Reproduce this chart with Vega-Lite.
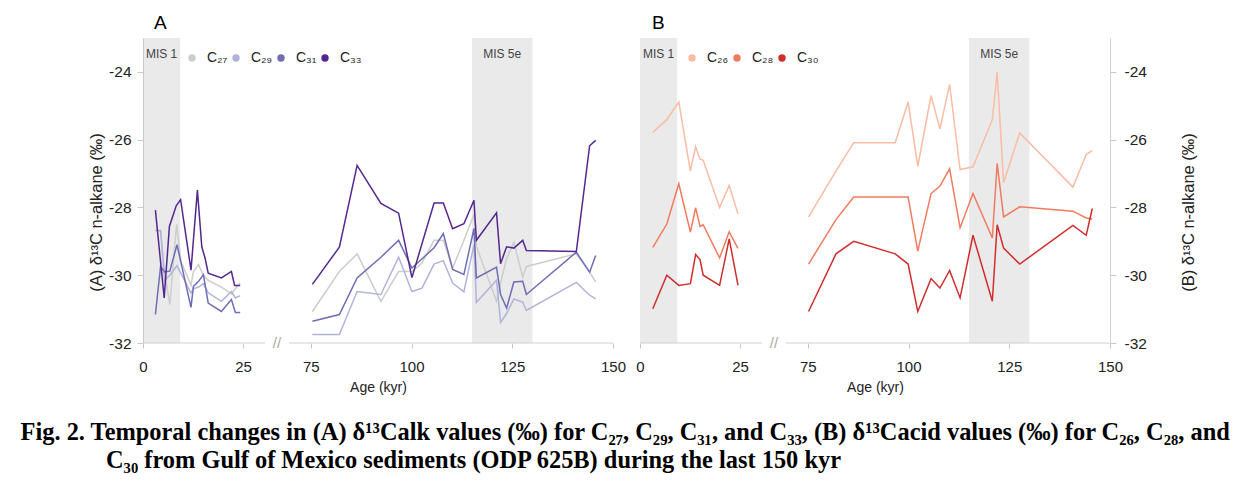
{
  "$schema": "https://vega.github.io/schema/vega-lite/v6.json",
  "padding": {"left": 20, "top": 14, "right": 5, "bottom": 5},
  "config": {
    "view": {"stroke": null},
    "font": "Liberation Sans",
    "axis": {"labelFont": "Liberation Sans", "labelColor": "#222", "titleFont": "Liberation Sans", "titleFontWeight": "normal", "titleColor": "#222", "domainColor": "#d0d0d0", "tickColor": "#c8c8c8", "gridColor": "#dcdcdc"},
    "axisX": {"grid": false},
    "legend": {"labelFont": "Liberation Sans"}
  },
  "title": {
    "text": ["Fig. 2. Temporal changes in (A) δ¹³Calk values (‰) for C₂₇, C₂₉, C₃₁, and C₃₃, (B) δ¹³Cacid values (‰) for C₂₆, C₂₈, and", "\u200b\u00a0\u00a0\u00a0\u00a0\u00a0\u00a0\u00a0\u00a0\u00a0\u00a0\u00a0\u00a0\u00a0\u00a0C₃₀ from Gulf of Mexico sediments (ODP 625B) during the last 150 kyr"],
    "orient": "bottom", "anchor": "start", "font": "Liberation Serif", "fontSize": 24.4, "fontWeight": "bold", "color": "#000", "lineHeight": 28, "offset": 27, "dx": -68
  },
  "datasets": {
    "alk": [
      {"s":"C27","age":3.1,"d":-28.68},{"s":"C27","age":4.4,"d":-28.7},{"s":"C27","age":5.4,"d":-29.9},{"s":"C27","age":6.7,"d":-30.87},{"s":"C27","age":8.4,"d":-28.5},{"s":"C27","age":9.5,"d":-29.6},{"s":"C27","age":12.0,"d":-30.3},{"s":"C27","age":12.6,"d":-29.9},{"s":"C27","age":13.9,"d":-29.69},{"s":"C27","age":15.1,"d":-30.0},{"s":"C27","age":16.3,"d":-30.15},{"s":"C27","age":19.6,"d":-30.35},{"s":"C27","age":22.1,"d":-30.55},{"s":"C27","age":23.1,"d":-30.4},{"s":"C27","age":24.3,"d":-30.22},
      {"s":"C27","age":75.4,"d":-31.07},{"s":"C27","age":82.1,"d":-29.89},{"s":"C27","age":86.5,"d":-29.37},{"s":"C27","age":92.4,"d":-30.77},{"s":"C27","age":96.8,"d":-29.89},{"s":"C27","age":100.1,"d":-29.89},{"s":"C27","age":102.6,"d":-29.64},{"s":"C27","age":105.6,"d":-28.97},{"s":"C27","age":107.9,"d":-28.97},{"s":"C27","age":110.2,"d":-29.79},{"s":"C27","age":113.0,"d":-28.97},{"s":"C27","age":115.5,"d":-28.21},{"s":"C27","age":116.1,"d":-29.15},{"s":"C27","age":121.1,"d":-30.77},{"s":"C27","age":122.1,"d":-30.23},{"s":"C27","age":123.6,"d":-29.5},{"s":"C27","age":125.4,"d":-29.03},{"s":"C27","age":127.6,"d":-30.05},{"s":"C27","age":128.5,"d":-29.74},{"s":"C27","age":140.9,"d":-29.37},{"s":"C27","age":144.2,"d":-29.91},{"s":"C27","age":145.7,"d":-30.2},
      {"s":"C29","age":3.1,"d":-28.68},{"s":"C29","age":4.4,"d":-28.68},{"s":"C29","age":5.4,"d":-30.15},{"s":"C29","age":6.7,"d":-30.0},{"s":"C29","age":8.5,"d":-29.72},{"s":"C29","age":12.0,"d":-30.52},{"s":"C29","age":12.6,"d":-30.4},{"s":"C29","age":13.9,"d":-30.35},{"s":"C29","age":15.1,"d":-30.25},{"s":"C29","age":16.3,"d":-30.52},{"s":"C29","age":19.6,"d":-30.77},{"s":"C29","age":22.1,"d":-30.48},{"s":"C29","age":23.1,"d":-30.67},{"s":"C29","age":24.3,"d":-30.6},
      {"s":"C29","age":75.4,"d":-31.75},{"s":"C29","age":82.1,"d":-31.75},{"s":"C29","age":86.5,"d":-30.48},{"s":"C29","age":92.4,"d":-30.57},{"s":"C29","age":96.8,"d":-29.47},{"s":"C29","age":100.1,"d":-30.48},{"s":"C29","age":102.6,"d":-30.38},{"s":"C29","age":105.6,"d":-29.67},{"s":"C29","age":107.9,"d":-29.57},{"s":"C29","age":110.2,"d":-30.23},{"s":"C29","age":113.0,"d":-30.49},{"s":"C29","age":115.5,"d":-29.1},{"s":"C29","age":116.1,"d":-30.8},{"s":"C29","age":121.1,"d":-30.15},{"s":"C29","age":122.1,"d":-31.39},{"s":"C29","age":123.6,"d":-31.13},{"s":"C29","age":125.4,"d":-30.7},{"s":"C29","age":127.6,"d":-30.79},{"s":"C29","age":128.5,"d":-31.04},{"s":"C29","age":140.9,"d":-30.21},{"s":"C29","age":144.2,"d":-30.59},{"s":"C29","age":145.7,"d":-30.7},
      {"s":"C31","age":3.1,"d":-31.16},{"s":"C31","age":4.4,"d":-29.74},{"s":"C31","age":5.4,"d":-29.9},{"s":"C31","age":6.7,"d":-29.88},{"s":"C31","age":8.5,"d":-29.1},{"s":"C31","age":12.0,"d":-30.95},{"s":"C31","age":12.6,"d":-30.33},{"s":"C31","age":13.9,"d":-30.18},{"s":"C31","age":15.1,"d":-29.98},{"s":"C31","age":16.3,"d":-30.82},{"s":"C31","age":19.6,"d":-31.07},{"s":"C31","age":22.1,"d":-30.72},{"s":"C31","age":23.1,"d":-31.1},{"s":"C31","age":24.3,"d":-31.1},
      {"s":"C31","age":75.4,"d":-31.36},{"s":"C31","age":82.1,"d":-31.16},{"s":"C31","age":86.5,"d":-30.08},{"s":"C31","age":92.4,"d":-29.47},{"s":"C31","age":96.8,"d":-28.97},{"s":"C31","age":100.1,"d":-29.79},{"s":"C31","age":105.6,"d":-29.19},{"s":"C31","age":107.9,"d":-28.77},{"s":"C31","age":110.2,"d":-29.83},{"s":"C31","age":113.0,"d":-29.98},{"s":"C31","age":115.5,"d":-28.62},{"s":"C31","age":116.1,"d":-30.08},{"s":"C31","age":121.1,"d":-29.76},{"s":"C31","age":122.1,"d":-30.57},{"s":"C31","age":123.6,"d":-30.97},{"s":"C31","age":125.4,"d":-30.2},{"s":"C31","age":127.6,"d":-30.18},{"s":"C31","age":128.5,"d":-30.57},{"s":"C31","age":140.9,"d":-29.32},{"s":"C31","age":144.2,"d":-29.91},{"s":"C31","age":145.7,"d":-29.42},
      {"s":"C33","age":3.1,"d":-28.08},{"s":"C33","age":5.3,"d":-30.67},{"s":"C33","age":6.6,"d":-28.56},{"s":"C33","age":8.3,"d":-27.95},{"s":"C33","age":9.4,"d":-27.77},{"s":"C33","age":12.0,"d":-29.85},{"s":"C33","age":13.6,"d":-27.49},{"s":"C33","age":14.7,"d":-29.16},{"s":"C33","age":15.5,"d":-29.49},{"s":"C33","age":16.3,"d":-29.94},{"s":"C33","age":19.6,"d":-30.08},{"s":"C33","age":22.1,"d":-29.89},{"s":"C33","age":22.9,"d":-30.3},{"s":"C33","age":24.3,"d":-30.3},
      {"s":"C33","age":75.4,"d":-30.27},{"s":"C33","age":82.1,"d":-29.17},{"s":"C33","age":86.5,"d":-26.76},{"s":"C33","age":92.4,"d":-27.88},{"s":"C33","age":96.8,"d":-28.17},{"s":"C33","age":100.1,"d":-30.07},{"s":"C33","age":105.6,"d":-27.87},{"s":"C33","age":107.9,"d":-27.87},{"s":"C33","age":110.2,"d":-28.63},{"s":"C33","age":113.0,"d":-28.48},{"s":"C33","age":115.5,"d":-27.79},{"s":"C33","age":116.1,"d":-28.97},{"s":"C33","age":121.1,"d":-28.16},{"s":"C33","age":122.1,"d":-29.66},{"s":"C33","age":123.6,"d":-29.16},{"s":"C33","age":125.4,"d":-29.2},{"s":"C33","age":127.6,"d":-28.97},{"s":"C33","age":128.5,"d":-29.27},{"s":"C33","age":140.9,"d":-29.3},{"s":"C33","age":144.2,"d":-26.18},{"s":"C33","age":145.7,"d":-26.02}
    ],
    "acid": [
      {"s":"C26","age":3.2,"d":-25.78},{"s":"C26","age":6.7,"d":-25.41},{"s":"C26","age":9.7,"d":-24.89},{"s":"C26","age":12.6,"d":-26.93},{"s":"C26","age":13.9,"d":-26.21},{"s":"C26","age":15.0,"d":-26.57},{"s":"C26","age":15.8,"d":-26.61},{"s":"C26","age":19.9,"d":-28.0},{"s":"C26","age":22.3,"d":-27.35},{"s":"C26","age":24.5,"d":-28.19},
      {"s":"C26","age":75.2,"d":-28.28},{"s":"C26","age":82.0,"d":-26.93},{"s":"C26","age":86.4,"d":-26.09},{"s":"C26","age":96.7,"d":-26.09},{"s":"C26","age":99.9,"d":-24.89},{"s":"C26","age":102.3,"d":-26.78},{"s":"C26","age":105.6,"d":-24.7},{"s":"C26","age":107.8,"d":-25.68},{"s":"C26","age":110.2,"d":-24.37},{"s":"C26","age":112.8,"d":-26.88},{"s":"C26","age":116.0,"d":-26.8},{"s":"C26","age":120.8,"d":-25.41},{"s":"C26","age":122.0,"d":-24.01},{"s":"C26","age":123.6,"d":-27.27},{"s":"C26","age":127.6,"d":-25.8},{"s":"C26","age":140.8,"d":-27.4},{"s":"C26","age":144.1,"d":-26.44},{"s":"C26","age":145.6,"d":-26.32},
      {"s":"C28","age":3.2,"d":-29.18},{"s":"C28","age":6.7,"d":-28.49},{"s":"C28","age":9.7,"d":-27.3},{"s":"C28","age":12.6,"d":-28.73},{"s":"C28","age":13.9,"d":-28.01},{"s":"C28","age":15.0,"d":-28.56},{"s":"C28","age":15.8,"d":-28.51},{"s":"C28","age":19.9,"d":-29.49},{"s":"C28","age":22.3,"d":-28.72},{"s":"C28","age":24.5,"d":-29.21},
      {"s":"C28","age":75.2,"d":-29.67},{"s":"C28","age":82.0,"d":-28.36},{"s":"C28","age":86.4,"d":-27.69},{"s":"C28","age":96.7,"d":-27.69},{"s":"C28","age":99.9,"d":-27.69},{"s":"C28","age":102.3,"d":-29.29},{"s":"C28","age":105.6,"d":-27.59},{"s":"C28","age":107.8,"d":-27.37},{"s":"C28","age":110.2,"d":-26.86},{"s":"C28","age":112.8,"d":-28.6},{"s":"C28","age":116.0,"d":-27.59},{"s":"C28","age":120.8,"d":-28.9},{"s":"C28","age":122.0,"d":-26.7},{"s":"C28","age":123.6,"d":-28.28},{"s":"C28","age":127.6,"d":-27.98},{"s":"C28","age":140.8,"d":-28.11},{"s":"C28","age":144.1,"d":-28.31},{"s":"C28","age":145.6,"d":-28.34},
      {"s":"C30","age":3.2,"d":-30.99},{"s":"C30","age":6.7,"d":-30.0},{"s":"C30","age":9.7,"d":-30.3},{"s":"C30","age":12.6,"d":-30.25},{"s":"C30","age":13.9,"d":-29.39},{"s":"C30","age":15.0,"d":-29.54},{"s":"C30","age":15.8,"d":-30.0},{"s":"C30","age":19.9,"d":-30.3},{"s":"C30","age":22.3,"d":-28.93},{"s":"C30","age":24.5,"d":-30.3},
      {"s":"C30","age":75.2,"d":-31.07},{"s":"C30","age":82.0,"d":-29.37},{"s":"C30","age":86.4,"d":-29.0},{"s":"C30","age":96.7,"d":-29.37},{"s":"C30","age":99.9,"d":-29.67},{"s":"C30","age":102.3,"d":-31.07},{"s":"C30","age":105.6,"d":-30.1},{"s":"C30","age":107.8,"d":-30.38},{"s":"C30","age":110.2,"d":-29.86},{"s":"C30","age":112.8,"d":-30.67},{"s":"C30","age":116.0,"d":-28.82},{"s":"C30","age":120.8,"d":-30.77},{"s":"C30","age":122.0,"d":-28.51},{"s":"C30","age":123.6,"d":-29.2},{"s":"C30","age":127.6,"d":-29.67},{"s":"C30","age":140.8,"d":-28.53},{"s":"C30","age":144.1,"d":-28.82},{"s":"C30","age":145.6,"d":-28.03}
    ]
  },
  "spacing": 9,
  "resolve": {"scale": {"color": "independent"}, "legend": {"color": "independent"}},
  "hconcat": [
    {
      "width": 470, "height": 305,
      "title": {"text": "A", "anchor": "start", "frame": "group", "dx": 11, "fontSize": 19, "fontWeight": "normal", "font": "Liberation Sans", "offset": 5, "color": "#000"},
      "layer": [
        {"data": {"values": [{}]}, "mark": {"type": "rect", "fill": "#b8b8b8", "opacity": 0.3},
         "encoding": {
           "x": {"datum": 0, "type": "quantitative", "scale": {"type": "linear", "domain": [0, 30.5, 69.6, 150], "range": [0, 122, 146, 470], "nice": false, "zero": false},
                 "axis": {"values": [0, 25, 75, 100, 125, 150], "domain": false, "grid": false, "tickSize": 5, "labelPadding": 11, "labelFontSize": 15, "title": "Age (kyr)", "titleFontSize": 14, "titlePadding": 6, "labelFlush": false}},
           "x2": {"datum": 9.3},
           "y": {"datum": -32, "type": "quantitative", "scale": {"domain": [-32, -23], "nice": false, "zero": false},
                 "axis": {"orient": "left", "values": [-32, -31, -30, -29, -28, -27, -26, -25, -24], "labelExpr": "datum.value % 2 === 0 ? '-' + abs(datum.value) : ''", "gridOpacity": {"condition": {"test": "datum.value % 2 === 0", "value": 1}, "value": 0}, "tickSize": 6, "labelPadding": 6, "labelFontSize": 15.5, "title": "(A) δ¹³C n-alkane (‰)", "titleFontSize": 16.5, "titlePadding": 4, "titleY": 174}},
           "y2": {"datum": -23}}},
        {"data": {"values": [{}]}, "mark": {"type": "rect", "fill": "#b8b8b8", "opacity": 0.3},
         "encoding": {"x": {"datum": 115, "type": "quantitative"}, "x2": {"datum": 130}, "y": {"datum": -32, "type": "quantitative"}, "y2": {"datum": -23}}},
        {"data": {"name": "alk"}, "mark": {"type": "point", "filled": true, "opacity": 0, "size": 0},
         "encoding": {
           "x": {"field": "age", "type": "quantitative"},
           "y": {"field": "d", "type": "quantitative"},
           "color": {"field": "s", "type": "nominal", "scale": {"domain": ["C27", "C29", "C31", "C33"], "range": ["#cdcdcd", "#b2b3da", "#6e6db5", "#54278f"]},
                     "legend": {"orient": "none", "legendX": 42, "legendY": 13, "direction": "horizontal", "title": null, "padding": 0, "symbolType": "circle", "symbolSize": 55, "symbolOpacity": 1, "symbolStrokeWidth": 0, "labelFontSize": 14, "labelColor": "#222", "labelOffset": 8, "columnPadding": 1, "labelExpr": "datum.label == 'C27' ? 'C₂₇' : datum.label == 'C29' ? 'C₂₉' : datum.label == 'C31' ? 'C₃₁' : 'C₃₃'"}}}},
        {"data": {"name": "alk"}, "transform": [{"filter": "datum.age < 50"}], "mark": {"type": "line", "strokeWidth": 1.5},
         "encoding": {
           "x": {"field": "age", "type": "quantitative"},
           "y": {"field": "d", "type": "quantitative"},
           "color": {"field": "s", "type": "nominal"}}},
        {"data": {"name": "alk"}, "transform": [{"filter": "datum.age > 50"}], "mark": {"type": "line", "strokeWidth": 1.5},
         "encoding": {
           "x": {"field": "age", "type": "quantitative"},
           "y": {"field": "d", "type": "quantitative"},
           "color": {"field": "s", "type": "nominal"}}},
        {"data": {"values": [{}]}, "mark": {"type": "text", "fontSize": 12, "color": "#444", "baseline": "middle"},
         "encoding": {"x": {"datum": 4.65, "type": "quantitative"}, "y": {"datum": -23.46, "type": "quantitative"}, "text": {"value": "MIS 1"}}},
        {"data": {"values": [{}]}, "mark": {"type": "text", "fontSize": 12, "color": "#444", "baseline": "middle"},
         "encoding": {"x": {"datum": 122.5, "type": "quantitative"}, "y": {"datum": -23.46, "type": "quantitative"}, "text": {"value": "MIS 5e"}}},
        {"data": {"values": [{}]}, "mark": {"type": "rule", "color": "#d0d0d0", "strokeWidth": 1},
         "encoding": {"x": {"datum": 0, "type": "quantitative"}, "x2": {"datum": 30.5}, "y": {"datum": -32, "type": "quantitative"}}},
        {"data": {"values": [{}]}, "mark": {"type": "rule", "color": "#d0d0d0", "strokeWidth": 1},
         "encoding": {"x": {"datum": 69.6, "type": "quantitative"}, "x2": {"datum": 150}, "y": {"datum": -32, "type": "quantitative"}}},
        {"data": {"values": [{}]}, "mark": {"type": "text", "fontSize": 15, "color": "#aaaaaa", "baseline": "middle"},
         "encoding": {"x": {"datum": 50, "type": "quantitative"}, "y": {"datum": -32, "type": "quantitative"}, "text": {"value": "//"}}}
      ]
    },
    {
      "width": 470, "height": 305,
      "title": {"text": "B", "anchor": "start", "frame": "group", "dx": 12, "fontSize": 19, "fontWeight": "normal", "font": "Liberation Sans", "offset": 5, "color": "#000"},
      "layer": [
        {"data": {"values": [{}]}, "mark": {"type": "rect", "fill": "#b8b8b8", "opacity": 0.3},
         "encoding": {
           "x": {"datum": 0, "type": "quantitative", "scale": {"type": "linear", "domain": [0, 30.5, 69.6, 150], "range": [0, 122, 146, 470], "nice": false, "zero": false},
                 "axis": {"values": [0, 25, 75, 100, 125, 150], "domain": false, "grid": false, "tickSize": 5, "labelPadding": 11, "labelFontSize": 15, "title": "Age (kyr)", "titleFontSize": 14, "titlePadding": 6, "labelFlush": false}},
           "x2": {"datum": 9.3},
           "y": {"datum": -32, "type": "quantitative", "scale": {"domain": [-32, -23], "nice": false, "zero": false},
                 "axis": {"orient": "right", "values": [-32, -31, -30, -29, -28, -27, -26, -25, -24], "labelExpr": "datum.value % 2 === 0 ? '-' + abs(datum.value) : ''", "gridOpacity": {"condition": {"test": "datum.value % 2 === 0", "value": 1}, "value": 0}, "tickSize": 6, "labelPadding": 8, "labelFontSize": 15.5, "title": "(B) δ¹³C n-alkane (‰)", "titleFontSize": 16.5, "titlePadding": 50, "titleAngle": 270, "titleY": 174}},
           "y2": {"datum": -23}}},
        {"data": {"values": [{}]}, "mark": {"type": "rect", "fill": "#b8b8b8", "opacity": 0.3},
         "encoding": {"x": {"datum": 115, "type": "quantitative"}, "x2": {"datum": 130}, "y": {"datum": -32, "type": "quantitative"}, "y2": {"datum": -23}}},
        {"data": {"name": "acid"}, "mark": {"type": "point", "filled": true, "opacity": 0, "size": 0},
         "encoding": {
           "x": {"field": "age", "type": "quantitative"},
           "y": {"field": "d", "type": "quantitative"},
           "color": {"field": "s", "type": "nominal", "scale": {"domain": ["C26", "C28", "C30"], "range": ["#f9bca4", "#f07b5f", "#d02d2d"]},
                     "legend": {"orient": "none", "legendX": 45, "legendY": 13, "direction": "horizontal", "title": null, "padding": 0, "symbolType": "circle", "symbolSize": 55, "symbolOpacity": 1, "symbolStrokeWidth": 0, "labelFontSize": 14, "labelColor": "#222", "labelOffset": 8, "columnPadding": 1, "labelExpr": "datum.label == 'C26' ? 'C₂₆' : datum.label == 'C28' ? 'C₂₈' : 'C₃₀'"}}}},
        {"data": {"name": "acid"}, "transform": [{"filter": "datum.age < 50"}], "mark": {"type": "line", "strokeWidth": 1.5},
         "encoding": {
           "x": {"field": "age", "type": "quantitative"},
           "y": {"field": "d", "type": "quantitative"},
           "color": {"field": "s", "type": "nominal"}}},
        {"data": {"name": "acid"}, "transform": [{"filter": "datum.age > 50"}], "mark": {"type": "line", "strokeWidth": 1.5},
         "encoding": {
           "x": {"field": "age", "type": "quantitative"},
           "y": {"field": "d", "type": "quantitative"},
           "color": {"field": "s", "type": "nominal"}}},
        {"data": {"values": [{}]}, "mark": {"type": "text", "fontSize": 12, "color": "#444", "baseline": "middle"},
         "encoding": {"x": {"datum": 4.65, "type": "quantitative"}, "y": {"datum": -23.46, "type": "quantitative"}, "text": {"value": "MIS 1"}}},
        {"data": {"values": [{}]}, "mark": {"type": "text", "fontSize": 12, "color": "#444", "baseline": "middle"},
         "encoding": {"x": {"datum": 122.5, "type": "quantitative"}, "y": {"datum": -23.46, "type": "quantitative"}, "text": {"value": "MIS 5e"}}},
        {"data": {"values": [{}]}, "mark": {"type": "rule", "color": "#d0d0d0", "strokeWidth": 1},
         "encoding": {"x": {"datum": 0, "type": "quantitative"}, "x2": {"datum": 30.5}, "y": {"datum": -32, "type": "quantitative"}}},
        {"data": {"values": [{}]}, "mark": {"type": "rule", "color": "#d0d0d0", "strokeWidth": 1},
         "encoding": {"x": {"datum": 69.6, "type": "quantitative"}, "x2": {"datum": 150}, "y": {"datum": -32, "type": "quantitative"}}},
        {"data": {"values": [{}]}, "mark": {"type": "text", "fontSize": 15, "color": "#aaaaaa", "baseline": "middle"},
         "encoding": {"x": {"datum": 50, "type": "quantitative"}, "y": {"datum": -32, "type": "quantitative"}, "text": {"value": "//"}}}
      ]
    }
  ]
}
